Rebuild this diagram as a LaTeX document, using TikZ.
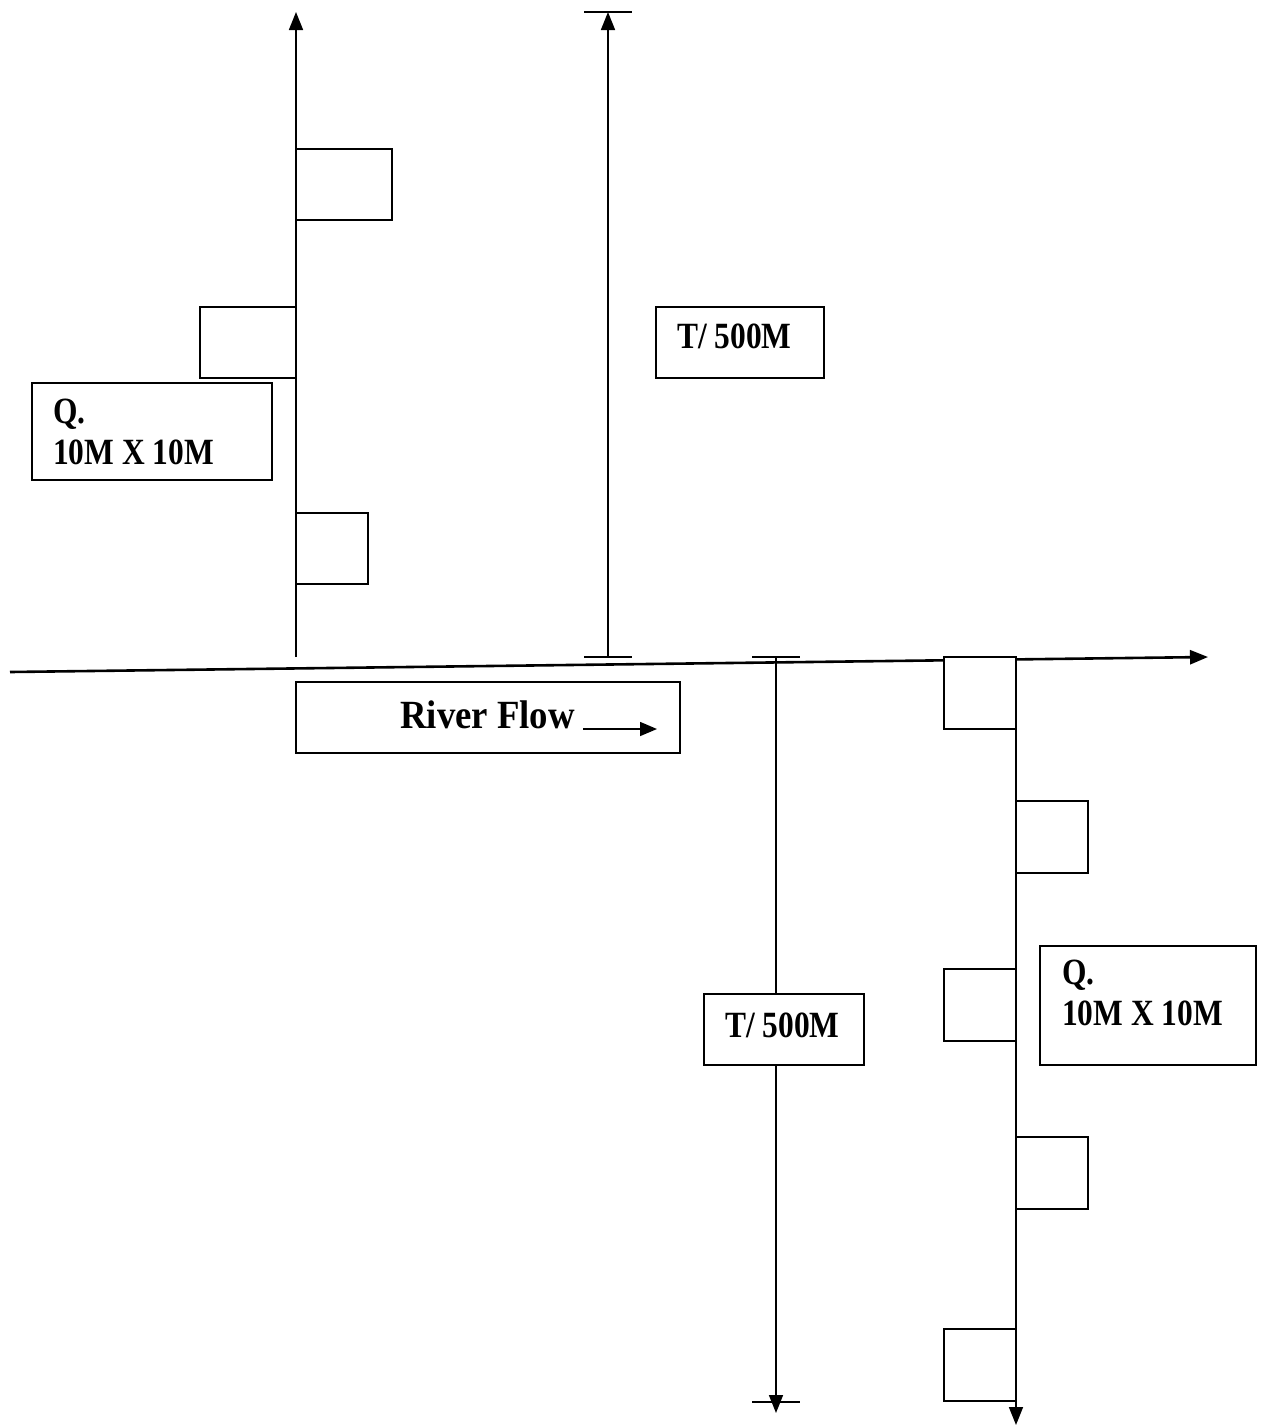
\documentclass[tikz,border=0pt]{standalone}
\usepackage{fontspec}
\setmainfont[FakeStretch=0.85]{Liberation Serif}
\newfontfamily\rffont[FakeStretch=0.92]{Liberation Serif}
\usetikzlibrary{arrows.meta}
\begin{document}
\begin{tikzpicture}[x=1pt,y=-1pt,
  ln/.style={line width=1.6pt},
  river/.style={line width=2.6pt},
  tip/.style={-{Triangle[length=18pt,width=14pt]}},
  sq/.style 2 args={draw, line width=1.6pt, fill=white, inner sep=0pt, outer sep=0pt,
     anchor=north west, minimum width=#1pt, minimum height=#2pt},
  lbl/.style={anchor=base west, inner sep=0pt, font=\fontsize{37}{42}\selectfont\bfseries},
  biglbl/.style={anchor=base west, inner sep=0pt, font=\rffont\fontsize{40}{46}\selectfont\bfseries}]
\useasboundingbox (0,0) rectangle (1261,1428);

% coordinates
\coordinate (rs) at (10,672);
\coordinate (re) at (1208,657);
\coordinate (l1b) at (296,657);
\coordinate (l1t) at (296,12);
\coordinate (l2b) at (608,657);
\coordinate (l2t) at (608,12);
\coordinate (l3t) at (776,657);
\coordinate (l3b) at (776,1413);
\coordinate (l4t) at (1016,657);
\coordinate (l4b) at (1016,1425);

% river
\draw[river, tip] (rs) -- (re);

% vertical lines
\draw[ln, tip] (l1b) -- (l1t);
\draw[ln, tip] (l2b) -- (l2t);
\draw[ln] ([xshift=-24pt]l2t) -- ([xshift=24pt]l2t);
\draw[ln] ([xshift=-24pt]l2b) -- ([xshift=24pt]l2b);
\draw[ln, tip] (l3t) -- (l3b);
\draw[ln] ([xshift=-24pt]l3t) -- ([xshift=24pt]l3t);
\draw[ln] (752,1402) -- (800,1402);
\draw[ln, tip] (l4t) -- (l4b);

% boxes on upper line
\node[sq={96}{71}] (b1) at (296,149) {};
\node[sq={96}{71}] (b2) at (200,307) {};
\node[sq={240}{97}] (q1) at (32,383) {};
\node[sq={72}{71}] (b3) at (296,513) {};
\node[sq={168}{71}] (t1) at (656,307) {};
\node[sq={384}{71}] (rf) at (296,682) {};

% boxes on lower line
\node[sq={72}{72}] (b4) at (944,657) {};
\node[sq={72}{72}] (b5) at (1016,801) {};
\node[sq={72}{72}] (b6) at (944,969) {};
\node[sq={216}{119}] (q2) at (1040,946) {};
\node[sq={72}{72}] (b7) at (1016,1137) {};
\node[sq={72}{72}] (b8) at (944,1329) {};
\node[sq={160}{71}] (t2) at (704,994) {};

% texts
\node[lbl] (q1a) at (53,423) {Q.};
\node[lbl] (q1b) at (53,464) {10M X 10M};
\node[lbl] (t1a) at (677,348) {T/ 500M};
\node[biglbl] (rfa) at (400,728) {River Flow};
\coordinate (rfs) at (583,729);
\coordinate (rfe) at (657,729);
\draw[ln, -{Triangle[length=17pt,width=14pt]}] (rfs) -- (rfe);
\node[lbl] (q2a) at (1062,984) {Q.};
\node[lbl] (q2b) at (1062,1025) {10M X 10M};
\node[lbl] (t2a) at (725,1037) {T/ 500M};
\end{tikzpicture}
\end{document}
